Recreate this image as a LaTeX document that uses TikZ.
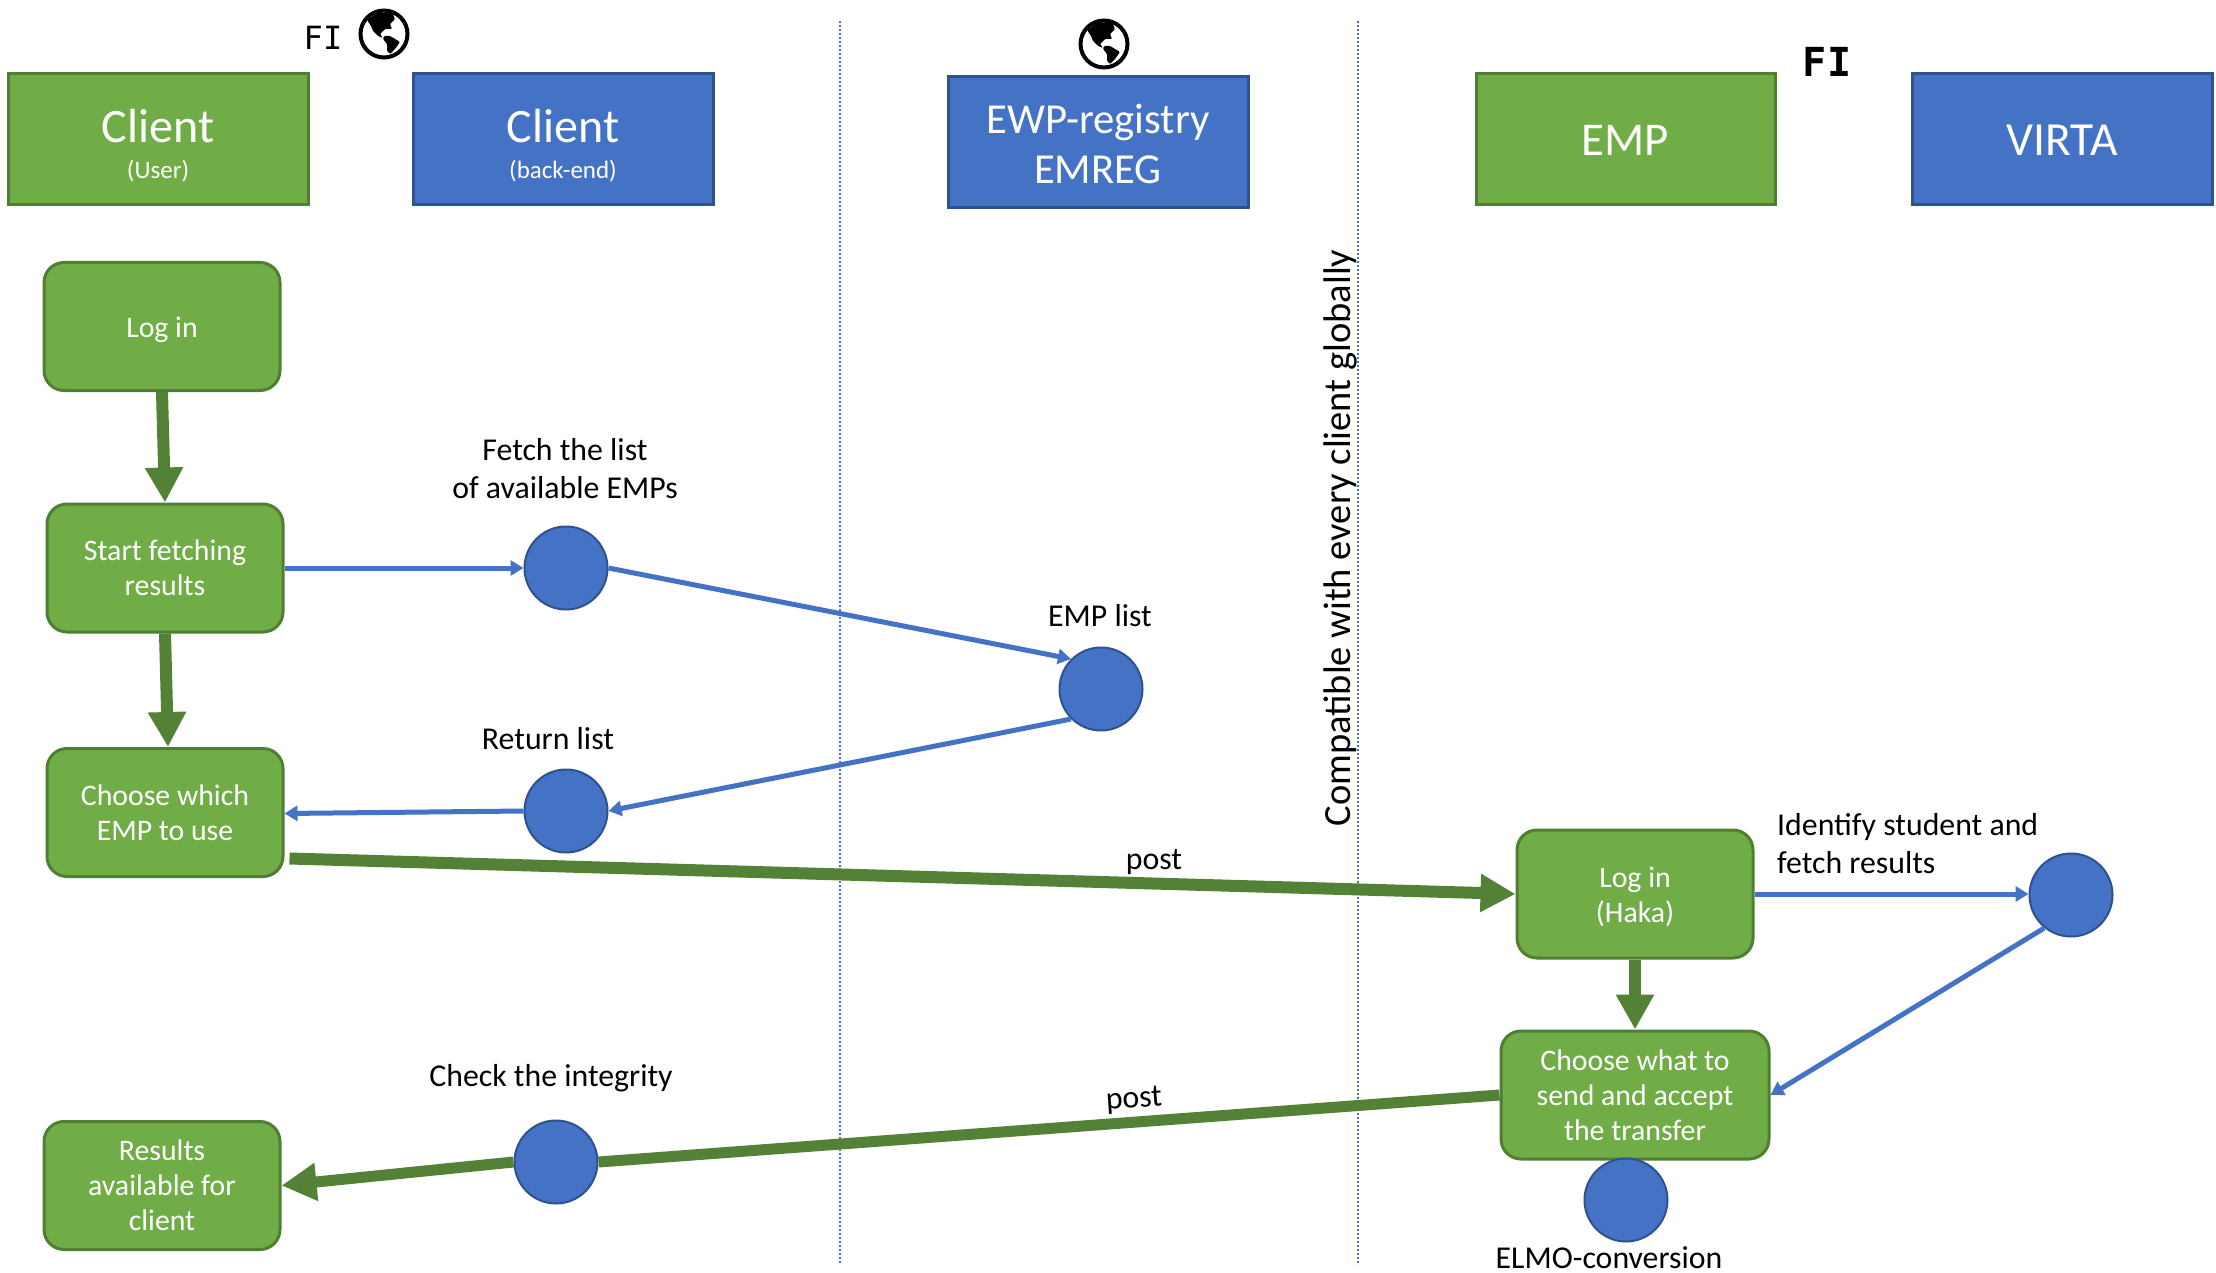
\documentclass[tikz,border=0pt]{standalone}
\usepackage{fontspec}
\setmainfont{Carlito}
\newfontfamily\monofam{DejaVu Sans Mono}
\usetikzlibrary{arrows.meta}
\definecolor{gfill}{HTML}{70AD47}
\definecolor{gline}{HTML}{507E32}
\definecolor{bfill}{HTML}{4472C4}
\definecolor{bline}{HTML}{2F528F}
\definecolor{garrow}{HTML}{538135}
\newcommand{\lowr}[2]{\raisebox{-#1}[\height][\depth]{#2}}
\tikzset{
  x=1pt,y=-1pt,
  head/.style={draw,line width=3pt,text=white,inner sep=0pt,minimum width=#1,align=center,minimum height=131pt},
  headg/.style={head=#1,fill=gfill,draw=gline},
  headb/.style={head=#1,fill=bfill,draw=bline},
  proc/.style={draw=gline,fill=gfill,line width=3pt,rounded corners=20pt,text=white,inner sep=0pt,
    minimum width=#1,minimum height=128pt,align=center,font=\fontsize{29.8}{35}\selectfont},
  dot/.style={circle,draw=bline,fill=bfill,line width=2pt,minimum size=83pt,inner sep=0pt},
  lab/.style={text=black,inner sep=0pt,align=center,font=\fontsize{31.8}{38}\selectfont},
  garr/.style={draw=garrow,line width=12pt,-{Triangle[width=36pt,length=35pt]}},
  gpost/.style={draw=garrow,line width=11pt},
  barr/.style={draw=bfill,line width=5pt,-{Triangle[width=15pt,length=13pt]}},
  sep/.style={draw=bfill,line width=2pt,dash pattern=on 2pt off 2pt},
  big/.style={font=\fontsize{#1}{50}\selectfont},
  globe/.style={circle,draw=black,fill=white,line width=4pt,minimum size=47pt,inner sep=0pt},
  land/.style={fill=black,rounded corners=1pt},
  fi/.style={inner sep=0pt,text=black,font=\monofam\fontsize{#1}{#1}\selectfont},
}
\newcommand{\continents}[1]{%
  \begin{scope}[shift={(#1)}]
    \path[land] (-17,-14) -- (-7,-21) -- (8,-22) -- (11,-15) -- (6,-10) -- (8,-5) -- (1,-5) -- (-4,0) -- (-1,4) -- (-6,2) -- (-11,-3) -- (-13,-8) -- cycle;
    \path[land] (0,2) -- (6,2) -- (11,5) -- (16,8) -- (11,15) -- (6,20) -- (3,17) -- (3,10) -- (-1,5) -- cycle;
  \end{scope}}
\begin{document}
\begin{tikzpicture}
\useasboundingbox[fill=white] (0,0) rectangle (2216,1273);
\coordinate (s1a) at (840,21); \coordinate (s1b) at (840,1265);
\coordinate (s2a) at (1358,21); \coordinate (s2b) at (1358,1265);
\draw[sep] (s1a) -- (s1b);
\draw[sep] (s2a) -- (s2b);
% headers
\node[headg=300pt,big=48] (h1) at (158,139.5) {\lowr{10pt}{Client}\\[-6pt]\lowr{2pt}{\fontsize{25}{28}\selectfont (User)}};
\node[headb=300pt,big=48] (h2) at (563,139.5) {\lowr{10pt}{Client}\\[-6pt]\lowr{2pt}{\fontsize{25}{28}\selectfont (back-end)}};
\node[headb=300pt,big=42.7] (h3) at (1098,142) {\lowr{1.5pt}{EWP-registry}\\\lowr{1.5pt}{EMREG}};
\node[headg=299pt,big=47] (h4) at (1625.5,139) {\lowr{1.5pt}{EMP}};
\node[headb=300pt,big=47.5] (h5) at (2062,139) {\lowr{1.5pt}{VIRTA}};
\node[fi=32] (fi1) at (323,38) {FI};
\node[globe] (g1) at (384,34) {};
\continents{g1}
\node[globe] (g2) at (1104,44) {};
\continents{g2}
\node[fi=40,font=\monofam\bfseries\fontsize{40}{40}\selectfont] (fi2) at (1827,62) {FI};
% process boxes
\node[proc=236pt] (login) at (162,326.5) {\lowr{3pt}{Log in}};
\node[proc=236pt] (start) at (165,568) {Start fetching\\results};
\node[proc=236pt] (choose) at (165,812.5) {Choose which\\EMP to use};
\node[proc=236pt] (results) at (162,1185.5) {Results\\available for\\client};
\node[proc=236pt] (haka) at (1635,894) {\lowr{3pt}{Log in}\\\lowr{3pt}{(Haka)}};
\node[proc=268pt] (what) at (1635,1095) {Choose what to\\send and accept\\the transfer};
% circles
\node[dot] (c1) at (566,568) {};
\node[dot] (c2) at (1101,689) {};
\node[dot] (c3) at (566,811) {};
\node[dot] (c4) at (2071,895) {};
\node[dot] (c5) at (556,1162) {};
\node[dot] (c6) at (1626,1200) {};
% green arrows
\draw[garr] (login.south) -- (start.north);
\draw[garr] (start.south) -- ([xshift=3pt]choose.north);
\draw[garr] (haka.south) -- (what.north);
\draw[gpost,line width=12pt,-{Triangle[width=36pt,length=35pt]}] ([xshift=5pt,yshift=-46pt]choose.east) -- (haka.west);
\draw[gpost] (what.west) -- (c5.east);
\draw[gpost,-{Triangle[width=36pt,length=35pt]}] (c5.west) -- (results.east);
% blue arrows
\draw[barr] (start.east) -- (c1.west);
\draw[barr] (c1.east) -- (c2.135);
\draw[barr] (c2.225) -- (c3.east);
\draw[barr] (c3.west) -- ([yshift=-1pt]choose.east);
\draw[barr] (haka.east) -- ([yshift=1pt]c4.west);
\draw[barr] (c4.231) -- (what.east);
% labels
\node[lab] (l1) at (565,469) {Fetch the list\\of available EMPs};
\node[lab] (l2) at (1100,616) {EMP list};
\node[lab] (l3) at (548,739) {Return list};
\node[lab,align=left,anchor=west] (l4) at (1777,844) {Identify student and\\fetch results};
\node[lab] (l5) at (551,1078) {Check the integrity};
\node[lab] (l6) at (1609,1258) {ELMO-conversion};
\node[lab] (l7) at (1154,862) {post};
\node[lab,rotate=4] (l8) at (1134,1100) {post};
\node[lab,rotate=90,font=\fontsize{38.5}{40}\selectfont] (l9) at (1340,538) {Compatible with every client globally};
\end{tikzpicture}
\end{document}
